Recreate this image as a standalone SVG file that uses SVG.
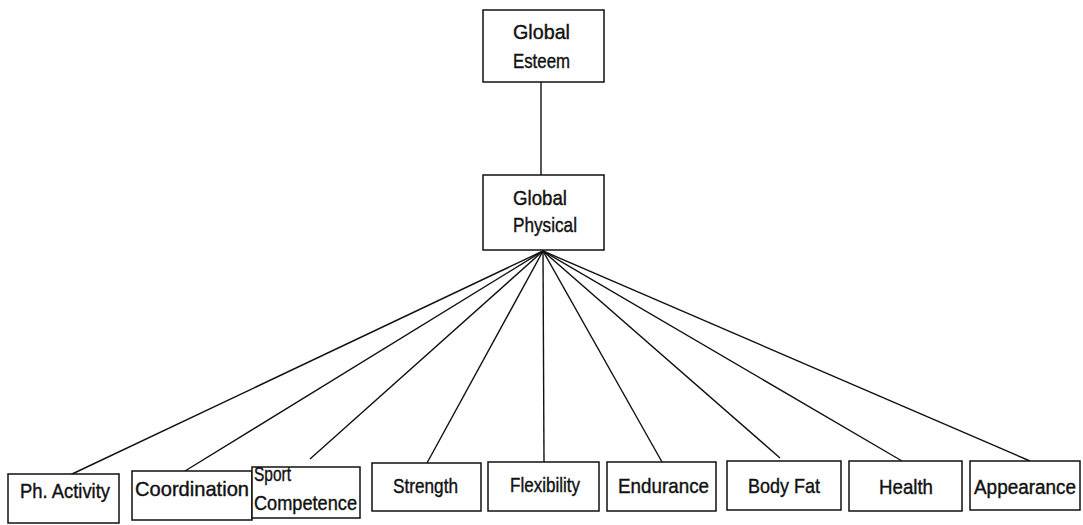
<svg xmlns="http://www.w3.org/2000/svg" width="1083" height="525" viewBox="0 0 1083 525">
  <style>
    .box { fill: #ffffff; stroke: #111111; stroke-width: 1.5; }
    .lbl { font-family: "Liberation Sans", Arial, sans-serif; font-size: 21px; fill: #111111; stroke: #111111; stroke-width: 0.4; }
    .edge { stroke: #111111; stroke-width: 1.4; fill: none; }
  </style>
  <rect width="1083" height="525" fill="#ffffff"/>

  <!-- connectors -->
  <g id="connectors">
    <line class="edge" x1="541" y1="82" x2="541" y2="175"/>
    <line class="edge" x1="543" y1="251" x2="70" y2="475"/>
    <line class="edge" x1="543" y1="251" x2="185" y2="471"/>
    <line class="edge" x1="543" y1="251" x2="310" y2="459"/>
    <line class="edge" x1="543" y1="251" x2="427" y2="463"/>
    <line class="edge" x1="543" y1="251" x2="544" y2="462"/>
    <line class="edge" x1="543" y1="251" x2="662" y2="462"/>
    <line class="edge" x1="543" y1="251" x2="780" y2="458"/>
    <line class="edge" x1="543" y1="251" x2="902" y2="461"/>
    <line class="edge" x1="543" y1="251" x2="1030" y2="461"/>
  </g>

  <g id="global-esteem">
    <rect class="box" x="483" y="10" width="121" height="72"/>
    <text class="lbl" x="513" y="39" textLength="57" lengthAdjust="spacingAndGlyphs">Global</text>
    <text class="lbl" x="513" y="68" textLength="57" lengthAdjust="spacingAndGlyphs">Esteem</text>
  </g>

  <g id="global-physical">
    <rect class="box" x="483" y="175" width="121" height="75"/>
    <text class="lbl" x="513" y="205" textLength="54" lengthAdjust="spacingAndGlyphs">Global</text>
    <text class="lbl" x="513" y="232" textLength="64" lengthAdjust="spacingAndGlyphs">Physical</text>
  </g>

  <g id="ph-activity">
    <rect class="box" x="8" y="474" width="111" height="49"/>
    <text class="lbl" x="20" y="498" textLength="90" lengthAdjust="spacingAndGlyphs">Ph. Activity</text>
  </g>

  <g id="coordination">
    <rect class="box" x="132" y="471" width="120" height="49"/>
    <text class="lbl" x="135" y="496" textLength="114" lengthAdjust="spacingAndGlyphs">Coordination</text>
  </g>

  <g id="sport-competence">
    <rect class="box" x="252" y="467" width="108" height="51"/>
    <text class="lbl" x="254" y="481" textLength="37" lengthAdjust="spacingAndGlyphs">Sport</text>
    <text class="lbl" x="254" y="510" textLength="103" lengthAdjust="spacingAndGlyphs">Competence</text>
  </g>

  <g id="strength">
    <rect class="box" x="372" y="463" width="109" height="48"/>
    <text class="lbl" x="393" y="493" textLength="65" lengthAdjust="spacingAndGlyphs">Strength</text>
  </g>

  <g id="flexibility">
    <rect class="box" x="488" y="462" width="111" height="49"/>
    <text class="lbl" x="510" y="492" textLength="70" lengthAdjust="spacingAndGlyphs">Flexibility</text>
  </g>

  <g id="endurance">
    <rect class="box" x="607" y="462" width="109" height="49"/>
    <text class="lbl" x="618" y="493" textLength="91" lengthAdjust="spacingAndGlyphs">Endurance</text>
  </g>

  <g id="body-fat">
    <rect class="box" x="727" y="461" width="114" height="49"/>
    <text class="lbl" x="748" y="493" textLength="72" lengthAdjust="spacingAndGlyphs">Body Fat</text>
  </g>

  <g id="health">
    <rect class="box" x="849" y="461" width="113" height="50"/>
    <text class="lbl" x="879" y="494" textLength="54" lengthAdjust="spacingAndGlyphs">Health</text>
  </g>

  <g id="appearance">
    <rect class="box" x="970" y="461" width="110" height="49"/>
    <text class="lbl" x="974" y="494" style="font-size:19.5px" textLength="102" lengthAdjust="spacingAndGlyphs">Appearance</text>
  </g>
</svg>
